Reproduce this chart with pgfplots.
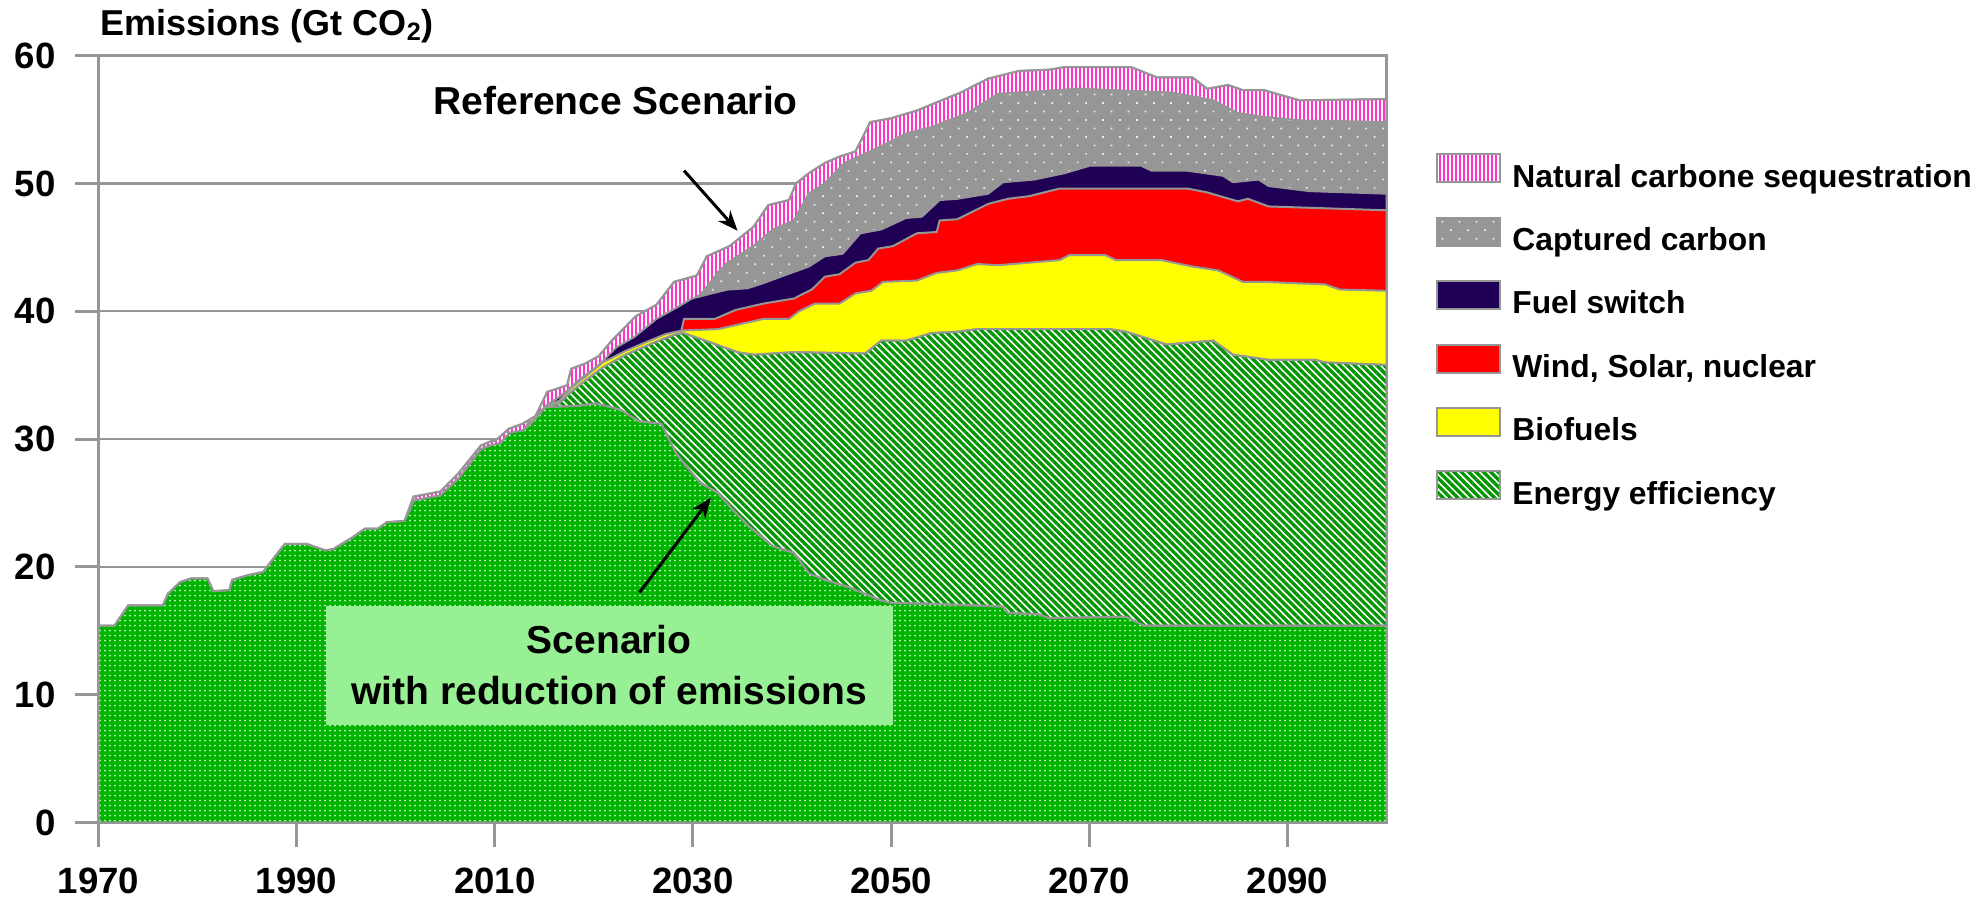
\documentclass[border=0pt]{standalone}
\usepackage{fontspec}
\setmainfont{Liberation Sans}
\usepackage{pgfplots}
\usepackage{pgfplotstable}
\pgfplotsset{compat=1.18}
\usetikzlibrary{patterns.meta,arrows.meta}
\definecolor{outl}{RGB}{150,150,150}
\definecolor{pinkc}{RGB}{255,51,204}
\definecolor{grayc}{RGB}{150,150,150}
\definecolor{navyc}{RGB}{32,0,85}
\definecolor{redc}{RGB}{255,0,0}
\definecolor{yellowc}{RGB}{255,255,0}
\definecolor{hatchc}{RGB}{0,150,0}
\definecolor{basec}{RGB}{0,180,0}
\definecolor{dotc}{RGB}{200,250,200}
\definecolor{boxc}{RGB}{152,240,148}

% Scenario with reduction (base)
\pgfplotstableread{
x y
1970 15.4
1971.6 15.4
1973 17.0
1976.5 17.0
1977 17.9
1978.2 18.8
1979.3 19.1
1981 19.1
1981.6 18.1
1983.2 18.2
1983.5 19.0
1985.3 19.4
1986.6 19.6
1988.8 21.8
1991 21.8
1992.9 21.3
1993.7 21.4
1995.6 22.3
1996.9 23.0
1998.2 23.0
1999.1 23.5
2000.9 23.6
2001.8 25.2
2004.5 25.6
2006.3 26.9
2008.6 29.2
2009.5 29.5
2010.6 29.7
2011.5 30.5
2012.9 30.7
2014 31.5
2015.1 32.5
2018.4 32.6
2020.2 32.8
2022.7 32.3
2024.5 31.4
2026.8 31.2
2028.3 28.9
2029.1 28.1
2030.7 26.6
2032.5 25.8
2034.0 24.5
2035.6 23.2
2038.1 21.6
2040.2 21.1
2041.7 19.5
2043.3 19.0
2045.8 18.4
2048.9 17.4
2050 17.2
2054.6 17.1
2061.3 16.9
2061.8 16.4
2064.9 16.3
2065.9 16.0
2073.7 16.1
2075.5 15.4
2100 15.4
}\baseT

% Energy efficiency top
\pgfplotstableread{
x y
2015.1 32.5
2016.5 32.8
2017.7 33.7
2019 34.5
2020.9 35.6
2023.2 36.6
2025 37.2
2027.2 37.9
2028.3 38.2
2029 38.3
2030.9 37.8
2034.5 36.8
2036.1 36.6
2040.2 36.8
2047.4 36.7
2049 37.7
2051.5 37.7
2054.1 38.3
2056.7 38.4
2058.7 38.6
2072.1 38.6
2073.7 38.4
2077.8 37.4
2082.5 37.7
2084.5 36.6
2088.1 36.2
2092.8 36.2
2093.8 36.0
2100 35.8
}\hatchT

% Biofuels top
\pgfplotstableread{
x y
2012.9 30.7
2013.6 31.5
2014.5 32.1
2015.3 32.7
2016.5 33.0
2017.7 34.0
2019 34.8
2020.9 36.0
2023.2 36.9
2025 37.5
2027.2 38.2
2028.3 38.4
2029 38.5
2032.5 38.6
2037.1 39.4
2039.7 39.4
2040.7 40.0
2042.3 40.6
2044.8 40.6
2046.4 41.4
2048 41.6
2049.2 42.3
2052.6 42.4
2054.6 43.0
2056.7 43.2
2058.7 43.7
2060.8 43.6
2067 44.0
2068 44.4
2071.6 44.4
2072.7 44.0
2077.3 44.0
2080.4 43.5
2083 43.2
2085.5 42.3
2087.6 42.3
2093.8 42.1
2095.3 41.7
2100 41.6
}\yellowT

% Wind, solar, nuclear top
\pgfplotstableread{
x y
2028.8 38.4
2029.1 39.4
2032.2 39.4
2034.3 40.1
2037.1 40.6
2040.2 41.0
2042 41.7
2043.3 42.7
2044.8 42.9
2046.4 43.8
2047.7 44.0
2048.7 44.9
2050.2 45.1
2052.6 46.1
2054.6 46.2
2054.9 47.1
2056.7 47.2
2059.8 48.4
2061.8 48.8
2063.9 49.0
2067 49.6
2079.9 49.6
2081.9 49.3
2083.2 49.0
2085 48.6
2086 48.8
2088.1 48.2
2100 47.9
}\redT

% Fuel switch top
\pgfplotstableread{
x y
2015.3 32.7
2016.5 33.3
2017.3 33.8
2018.6 34.7
2020.5 35.8
2022.3 37.2
2024.1 38.0
2026.3 39.4
2028.6 40.4
2029.9 41.0
2031.9 41.4
2033.5 41.7
2035.5 41.8
2037.1 42.2
2039.2 42.8
2041.7 43.5
2043.3 44.3
2045.1 44.5
2046.9 46.1
2049 46.4
2051.5 47.3
2053.1 47.4
2054.9 48.7
2056.7 48.8
2059.8 49.2
2061.3 50.1
2064.4 50.3
2067.5 50.8
2070.1 51.4
2075.2 51.4
2076.3 51.0
2079.9 51.0
2083.5 50.6
2084.5 50.1
2087.1 50.3
2088.1 49.8
2092.2 49.4
2100 49.2
}\navyT

% Captured carbon top
\pgfplotstableread{
x y
2030.4 41.1
2031 41.5
2032.5 43.0
2033.5 43.8
2036.1 45.1
2038.1 46.4
2040.2 47.1
2041.7 49.2
2043.3 50.0
2045.3 51.6
2047.9 52.5
2049.5 53.1
2051.5 53.9
2054.1 54.4
2057.7 55.5
2060.8 57.0
2067 57.3
2069 57.4
2078.3 57.1
2082.5 56.5
2085 55.5
2087.6 55.2
2091.7 54.9
2100 54.8
}\grayT

% Natural sequestration top (reference scenario)
\pgfplotstableread{
x y
2000.9 23.6
2001.8 25.5
2004.5 25.9
2006.3 27.3
2008.6 29.5
2009.5 29.8
2010.1 29.9
2011.4 30.8
2012.8 31.2
2014.1 31.8
2015.3 33.7
2017.3 34.2
2017.7 35.5
2019.1 35.9
2020.5 36.5
2021.8 37.7
2022.7 38.4
2024.2 39.6
2026.3 40.5
2028.1 42.3
2030.4 42.8
2031.4 44.3
2033.7 45.1
2036.1 46.6
2037.6 48.3
2039.7 48.7
2040.4 50.0
2041.7 50.8
2043.3 51.6
2044.8 52.1
2046.4 52.5
2047.9 54.8
2050 55.1
2052.6 55.7
2055.1 56.5
2057 57.1
2059.8 58.2
2062.9 58.8
2066 58.9
2067.5 59.1
2074.2 59.1
2075.2 58.8
2076.8 58.3
2080.4 58.3
2081.9 57.4
2084 57.7
2085.5 57.3
2087.6 57.3
2091.2 56.5
2100 56.6
}\pinkT

\pgfplotsset{
  layers/mylayers/.define layer set={axis background,axis grid,main,axis ticks,axis lines,axis tick labels,axis descriptions,axis foreground}{},
}

\begin{document}
\begin{tikzpicture}
\begin{axis}[
  set layers=mylayers,
  at={(0,0)}, anchor=south west,
  scale only axis, width=644pt, height=383.5pt,
  xmin=1970, xmax=2100, ymin=0, ymax=60,
  clip=false,
  axis line style={outl, line width=1.5pt},
  xtick={1970,1990,2010,2030,2050,2070,2090},
  ytick={0,10,20,30,40,50,60},
  tick pos=left, tick align=outside, major tick length=12pt,
  tick style={outl, line width=1.5pt},
  ymajorgrids, grid style={outl, line width=1.2pt},
  /pgf/number format/assume math mode=true,
  /pgf/number format/1000 sep={},
  ticklabel style={font=\bfseries\fontsize{18.3}{19}\selectfont, inner sep=0pt},
  xticklabel shift=10.5pt,
  yticklabel shift=9.25pt,
  legend cell align=left,
  legend image code/.code={\draw[#1,draw=outl,line width=1pt] (0pt,-1.7pt) rectangle (31.5pt,12.3pt);},
  legend style={at={(1.0384,0.873)}, anchor=north west, draw=none, fill=none,
    inner sep=0pt, row sep=10.9pt, column sep=5.5pt,
    font=\bfseries\fontsize{15.9}{16}\selectfont,
    nodes={inner sep=0pt, text height=12pt, text depth=4pt}},
]
\addplot[draw=outl, line width=1pt, fill=white,
  postaction={pattern={Lines[angle=90,distance=2pt,line width=1.15pt]}, pattern color=pinkc}]
  table[x=x,y=y] {\pinkT} \closedcycle;
\addlegendentry{Natural carbone sequestration}
\addplot[draw=outl, line width=1pt, fill=grayc,
  postaction={pattern={Dots[distance=6pt,radius=0.6pt,angle=45]}, pattern color=white!85!grayc}]
  table[x=x,y=y] {\grayT} \closedcycle;
\addlegendentry{Captured carbon}
\addplot[draw=outl, line width=1pt, fill=navyc]
  table[x=x,y=y] {\navyT} \closedcycle;
\addlegendentry{Fuel switch}
\addplot[draw=outl, line width=1pt, fill=redc]
  table[x=x,y=y] {\redT} \closedcycle;
\addlegendentry{Wind, Solar, nuclear}
\addplot[draw=outl, line width=1pt, fill=yellowc]
  table[x=x,y=y] {\yellowT} \closedcycle;
\addlegendentry{Biofuels}
\addplot[draw=outl, line width=1pt, fill=white,
  postaction={pattern={Lines[angle=-45,distance=2.6pt,line width=1.65pt]}, pattern color=hatchc}]
  table[x=x,y=y] {\hatchT} \closedcycle;
\addlegendentry{Energy efficiency}
\addplot[draw=outl, line width=1pt, fill=basec,
  postaction={pattern={Dots[distance=2.5pt,radius=0.5pt]}, pattern color=dotc}, forget plot]
  table[x=x,y=y] {\baseT} \closedcycle;

\node[font=\bfseries\fontsize{19.5}{23}\selectfont, inner sep=0pt] at (axis cs:2022.2,56.5) {Reference Scenario};
\node[fill=boxc, minimum width=283.5pt, minimum height=59.5pt, inner sep=0pt, align=center,
  font=\bfseries\fontsize{19.5}{25.5}\selectfont] at (axis cs:2021.55,12.32) {Scenario\\with reduction of emissions};
\draw[-{Stealth[length=10pt,width=8pt]}, line width=1.5pt] (axis cs:2029.1,51.0) -- (axis cs:2034.5,46.3);
\draw[-{Stealth[length=10pt,width=8pt]}, line width=1.5pt] (axis cs:2024.6,18.0) -- (axis cs:2031.8,25.4);
\node[anchor=base west, inner sep=0pt, font=\bfseries\fontsize{18}{21}\selectfont]
  at ([xshift=1pt,yshift=10.3pt]rel axis cs:0,1) {Emissions (Gt CO\textsubscript{2})};
\end{axis}
\pgfresetboundingbox
\path[use as bounding box] (-49.25pt,-39pt) rectangle (940.75pt,411.3pt);
\end{tikzpicture}
\end{document}
